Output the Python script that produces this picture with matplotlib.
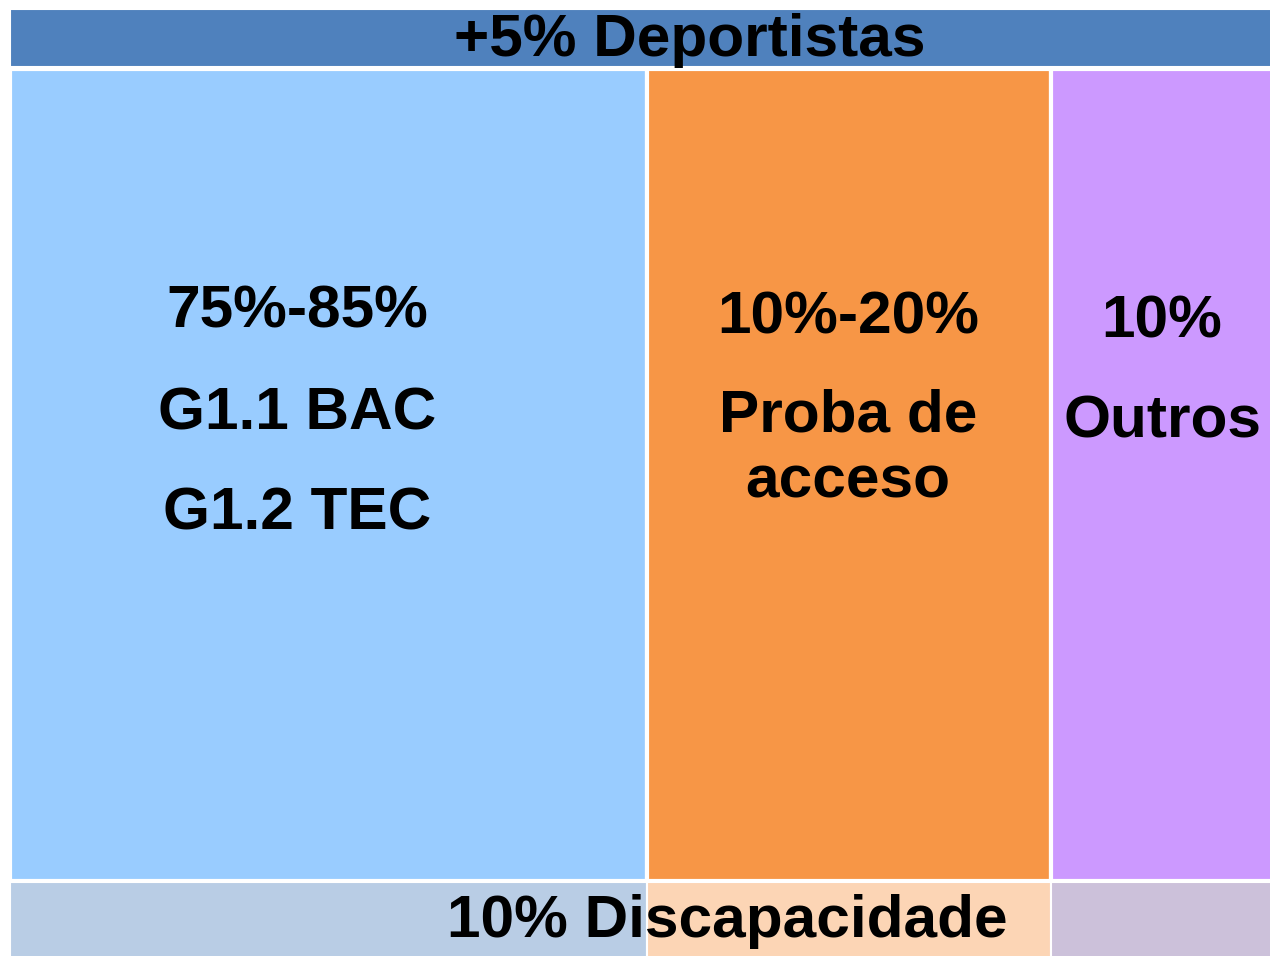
import matplotlib
matplotlib.use("Agg")
import matplotlib.pyplot as plt

# column labels and relative widths (share of the full width)
col_lines = [["75%-85%", "G1.1 BAC", "G1.2 TEC"],
             ["10%-20%", "Proba de", "acceso"],
             ["10%", "Outros"]]
col_widths = [637, 404, 224]
col_colors = ["#99CCFF", "#F79646", "#CC99FF"]
bottom_colors = ["#B9CDE5", "#FCD5B5", "#CCC1DA"]

top_label = "+5% Deportistas"
bottom_label = "10% Discapacidade"

# text baselines (pixels from top) for each column's lines
col_baselines = [[328, 429, 530], [333, 432, 497], [338, 437]]
col_text_x = [297, 848, 1162]

# layout rows: (top, height) in pixels
row_top = (9, 58)
row_main = (69, 812)
row_bottom = (882, 78)
x0 = 10

fig = plt.figure(figsize=(12.7, 9.56), dpi=100)
ax = fig.add_axes([0, 0, 1, 1])
ax.set_xlim(0, 1270)
ax.set_ylim(956, 0)
ax.axis("off")

font = dict(family=["Liberation Sans", "DejaVu Sans"], fontweight="bold",
            fontsize=43.5, color="black")

# top band
ax.bar(x0, row_top[1], width=sum(col_widths), bottom=row_top[0], align="edge",
       color="#4F81BD", edgecolor="white", linewidth=1.5)
ax.text(690, 56, top_label, ha="center", va="baseline", **font)

# main columns + bottom band
lefts = [x0]
for w in col_widths[:-1]:
    lefts.append(lefts[-1] + w)

ax.bar(lefts, row_main[1], width=col_widths, bottom=row_main[0], align="edge",
       color=col_colors, edgecolor="white", linewidth=3)
ax.bar(lefts, row_bottom[1], width=col_widths, bottom=row_bottom[0], align="edge",
       color=bottom_colors, edgecolor="white", linewidth=1.5)

for lines, ys, tx in zip(col_lines, col_baselines, col_text_x):
    for s, y in zip(lines, ys):
        ax.text(tx, y, s, ha="center", va="baseline", **font)

ax.text(727, 937, bottom_label, ha="center", va="baseline", **font)

fig.savefig("out.png", dpi=100, facecolor="white")
